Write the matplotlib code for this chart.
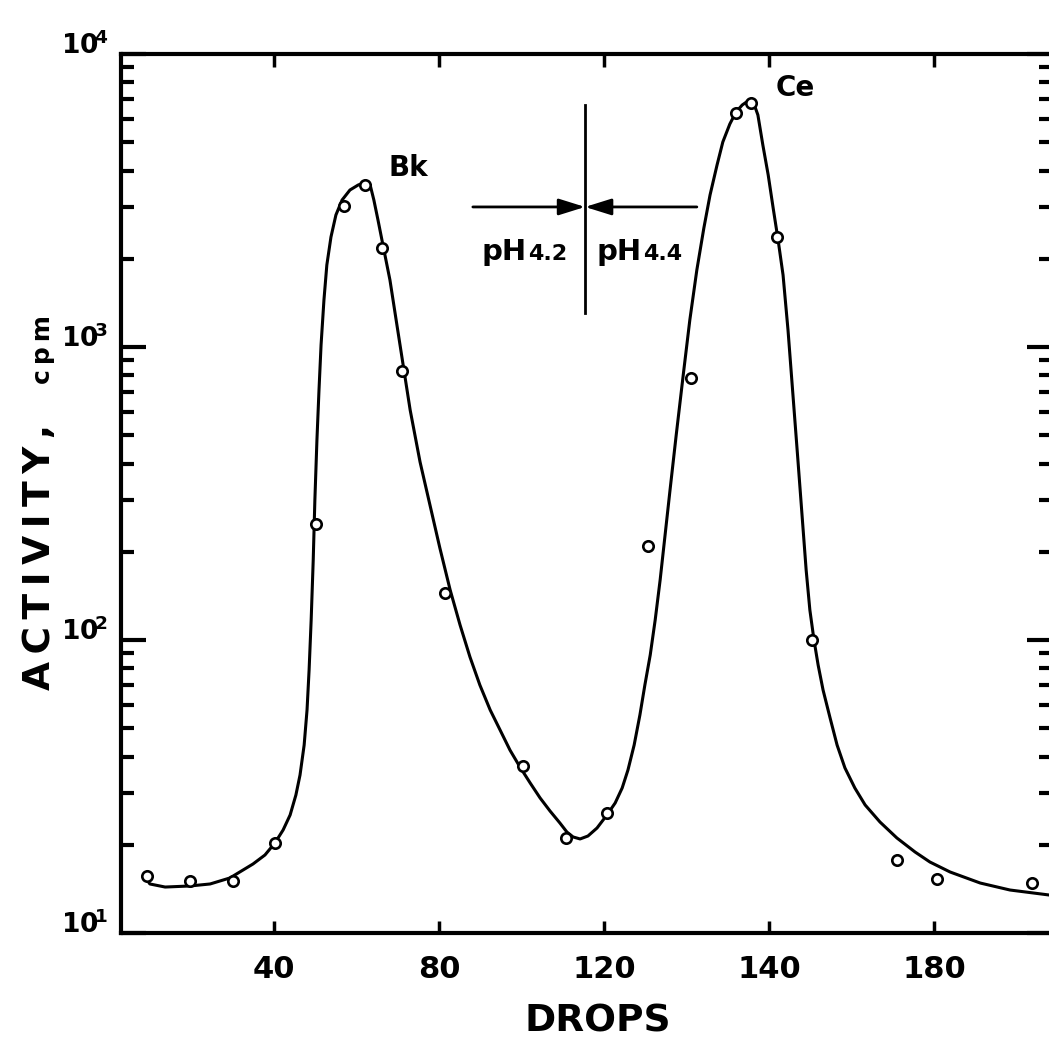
import matplotlib
matplotlib.use("Agg")
import matplotlib.pyplot as plt
from matplotlib.transforms import ScaledTranslation

# measured points (drops, cpm)
drops_pts = [9.2, 19.6, 30.1, 40.2, 50.2, 57.0, 62.1, 66.2, 71.0, 81.5, 100.4,
             110.8, 120.7, 130.7, 141.0, 152.0, 155.6, 162.0, 170.5, 191.0,
             200.7, 223.8]
cpm_pts = [15.6, 15.0, 15.0, 20.3, 249, 3030, 3570, 2180, 828, 145, 37.2,
           21.1, 25.7, 209, 784, 6290, 6810, 2370, 100, 17.7, 15.3, 14.8]

# hand drawn smooth curve
curve_x = [8.7, 9.9, 13.6, 19.6, 24.5, 29.3, 34.9, 37.8, 40.2, 42.2, 43.9,
           45.3, 46.3, 47.3, 48.0, 48.5, 49.0, 49.5, 49.9, 50.4, 50.9, 51.4,
           52.1, 52.8, 53.8, 55.0, 56.5, 58.4, 60.4, 62.3, 63.3, 64.2, 65.2,
           66.4, 68.1, 69.6, 71.3, 73.0, 75.4, 77.8, 80.2, 82.7, 85.1, 87.5,
           89.9, 92.4, 94.8, 97.2, 99.6, 102.1, 104.5, 106.9, 109.3, 111.0,
           112.5, 114.2, 116.1, 118.3, 120.7, 122.7, 124.4, 125.8, 127.3,
           128.7, 129.9, 131.2, 132.4, 133.6, 134.8, 136.0, 137.5, 139.2,
           140.8, 142.5, 144.2, 145.7, 147.4, 148.8, 150.5, 152.0, 153.5,
           154.9, 156.1, 157.3, 158.5, 159.8, 161.0, 162.2, 163.4, 164.6,
           165.8, 167.0, 168.0, 169.0, 169.9, 170.9, 171.9, 173.1, 174.8,
           176.5, 178.4, 180.8, 183.3, 186.9, 191.0, 195.4, 199.0, 203.9,
           211.2, 218.4, 227.9]
curve_y = [15.53, 14.70, 14.35, 14.47, 14.70, 15.41, 17.20, 18.46, 20.28,
           22.47, 25.28, 29.58, 34.61, 43.8, 57.7, 79.0, 117.0, 187.5, 300.4,
           481.6, 713.3, 1016, 1447, 1905, 2373, 2822, 3175, 3434, 3572, 3656,
           3572, 3175, 2713, 2229, 1693, 1237, 868, 609.5, 405.1, 288.9,
           206.1, 148.1, 112.5, 87.5, 70.2, 57.7, 49.3, 42.1, 36.9, 32.5,
           28.9, 26.09, 23.74, 22.11, 21.27, 20.94, 21.43, 22.82, 25.28,
           27.78, 31.26, 36.0, 43.8, 55.5, 70.2, 88.9, 117.0, 160.2, 228.2,
           325.0, 500.9, 802.4, 1237, 1832, 2547, 3302, 4181, 5009, 5769,
           6339, 6698, 6914, 6914, 6192, 4892, 3864, 2981, 2319, 1761, 1143,
           685.8, 411.6, 267.1, 173.3, 126.6, 100, 82.2, 67.5, 54.2, 43.8,
           36.6, 31.26, 27.35, 23.92, 21.10, 18.90, 17.47, 16.15, 14.81,
           14.02, 13.48]

xtick_pos = [40, 80, 120, 160, 200]
xtick_lab = ["40", "80", "120", "140", "180"]   # as printed on the original
ytick_pos = [10, 100, 1000, 10000]
ytick_lab = [r"$\mathbf{10^{\!1}}$", r"$\mathbf{10^{\!2}}$",
             r"$\mathbf{10^{\!3}}$", r"$\mathbf{10^{\!4}}$"]

plt.rcParams["font.family"] = "DejaVu Sans"
plt.rcParams["font.weight"] = "bold"
plt.rcParams["mathtext.default"] = "bf"

fig = plt.figure(figsize=(10.49, 10.46), dpi=100)
ax = fig.add_axes([121 / 1049, 1 - 933 / 1046, (1052 - 121) / 1049, (933 - 54) / 1046])

ax.plot(curve_x, curve_y, color="black", lw=2.2, solid_joinstyle="round")
ax.plot(drops_pts, cpm_pts, linestyle="none", marker="o", ms=7.5, mfc="white",
        mec="black", mew=1.9)

ax.set_yscale("log")
ax.set_xlim(2.9, 228.6)
ax.set_ylim(10, 10000)

ax.set_xticks(xtick_pos)
ax.set_xticklabels(xtick_lab, fontsize=22, fontweight="bold")
shift = ScaledTranslation(6 / 100, 0, fig.dpi_scale_trans)
for lab in ax.get_xticklabels():
    lab.set_transform(lab.get_transform() + shift)
ax.set_yticks(ytick_pos)
ax.set_yticklabels(ytick_lab, fontsize=19)
for lab in ax.get_yticklabels():
    lab.set_verticalalignment("baseline")

ax.tick_params(axis="x", which="major", direction="in", length=9, width=2.5,
               top=True, bottom=True, pad=16)
ax.tick_params(axis="y", which="major", direction="in", length=18, width=3,
               left=True, right=True, pad=9)
ax.tick_params(axis="y", which="minor", direction="in", length=9.5, width=3,
               left=True, right=True)
ax.tick_params(axis="x", which="minor", bottom=False, top=False)
for s in ax.spines.values():
    s.set_linewidth(3)

# annotations
ax.text(72.5, 4080, "Bk", fontsize=20, ha="center", va="center")
ax.text(166.3, 7660, "Ce", fontsize=20, ha="center", va="center")
ax.plot([115.4, 115.4], [1306, 6700], color="black", lw=2)
arrow = dict(arrowstyle="-|>,head_length=0.8,head_width=0.25", color="black",
             lw=2, shrinkA=0, shrinkB=0, mutation_scale=20)
ax.annotate("", xy=(115.4, 3006), xytext=(88.2, 3006), arrowprops=arrow)
ax.annotate("", xy=(115.4, 3006), xytext=(142.5, 3006), arrowprops=arrow)
ax.text(101.3, 1982, "pH", fontsize=21, ha="right", va="baseline")
ax.text(101.6, 1982, "4.2", fontsize=16, ha="left", va="baseline")
ax.text(129.2, 1982, "pH", fontsize=21, ha="right", va="baseline")
ax.text(129.5, 1982, "4.4", fontsize=16, ha="left", va="baseline")

fig.text(598 / 1049, 1 - 1022 / 1046, "DROPS", fontsize=27, ha="center", va="center")
fig.text(50 / 1049, 1 - 690 / 1046, "A\u2009C\u2009T\u2009I\u2009V\u2009I\u2009T\u2009Y\u2009,",
         fontsize=27, rotation=90, rotation_mode="anchor", ha="left", va="baseline")
fig.text(50 / 1049, 1 - 384 / 1046, "c\u2009p\u2009m", fontsize=18, rotation=90,
         rotation_mode="anchor", ha="left", va="baseline")

fig.savefig("out.png", dpi=100, facecolor="white")
